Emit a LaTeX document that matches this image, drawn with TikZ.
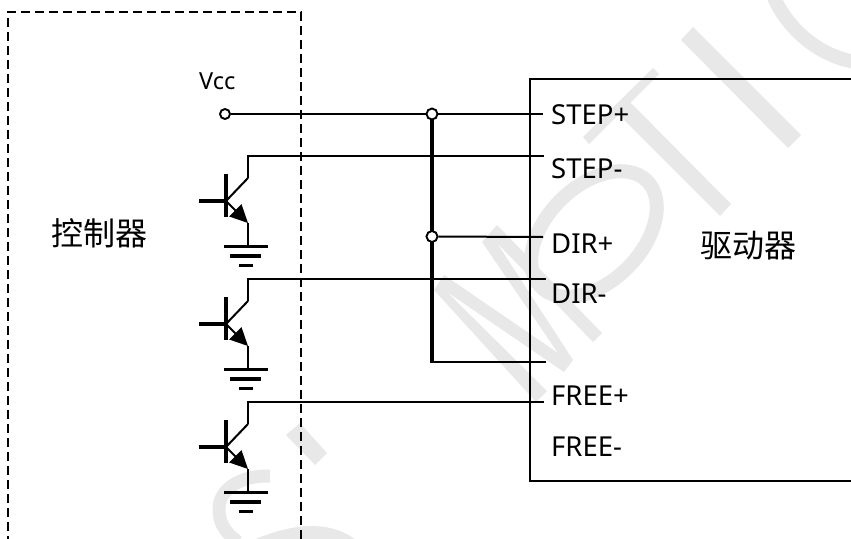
\documentclass[tikz,border=0pt]{standalone}
\usepackage{fontspec}
\setmainfont{Noto Sans}
\newfontfamily\cjk{Noto Sans CJK SC}
\usetikzlibrary{arrows.meta}
\definecolor{mark}{HTML}{E8E8E8}
\tikzset{
  wire/.style={line width=2pt,line cap=butt},
  bus/.style={line width=3.4pt},
  heavy/.style={line width=3.2pt},
  frame/.style={line width=1.8pt,dash pattern=on 9pt off 5pt},
  junction/.style={circle,draw,fill=white,line width=1.9pt,inner sep=0pt,minimum size=10pt},
  lab/.style={anchor=base west,inner sep=0pt,font=\fontsize{27.5}{27.5}\selectfont},
  cn/.style={inner sep=0pt,font=\cjk\fontsize{32}{32}\selectfont},
  wm/.style={draw=none,fill=mark},
  wmline/.style={draw=mark},
  npn/.pic={
    \coordinate (-b) at (199,201);
    \coordinate (-k) at (226,201);
    \coordinate (-t) at (226,174);
    \coordinate (-u) at (226,217);
    \coordinate (-c) at (248,178);
    \coordinate (-e) at (248,223);
    \coordinate (-g) at (248,246.5);
    \draw[heavy] (-b) -- (-k);
    \draw[heavy] (-t) -- (-u);
    \draw[wire] (-k) -- (-c);
    \draw[wire,-{Triangle[length=18pt,width=17pt]}] (-k) -- (-e);
    \draw[wire] (-e) -- (-g);
    \draw[heavy] (224,246.5) -- (268,246.5);
    \draw[heavy] (230,256) -- (261,256);
    \draw[heavy] (239,265.5) -- (253,265.5);
  }
}
\begin{document}
\begin{tikzpicture}[x=1pt,y=-1pt]
\useasboundingbox (0,0) rectangle (851,538);
\clip (0,0) rectangle (851,538);
% watermark
\fill[wm] (681,40) -- (693,27) -- (801,135) -- (788,148) -- cycle;
\fill[wm] (653,68) -- (659,74) -- (589,144) -- (583,137) -- cycle;
\fill[wm] (615,111) -- (627,99) -- (731,204) -- (720,216) -- cycle;
\draw[wmline,line width=14pt] (594,234) ellipse[x radius=75,y radius=47.6,rotate=45];
\fill[wm] (444,275) -- (434,290) -- (536,402) -- (547,391) -- (447,292) -- (564,372) -- (573,360) -- (497,243) -- (593,342) -- (602,333) -- (497,225) -- (482,242) -- (558,353) -- cycle;
\draw[wmline,line width=14pt] (773,-5) .. controls (785,25) and (815,55) .. (855,62);
\fill[wm] (286,435) -- (300,423) -- (327,453) -- (315,465) -- cycle;
\draw[wmline,line width=13pt] (270,476) .. controls (240,475) and (218,490) .. (219,510) .. controls (219,525) and (228,535) .. (238,542);
\draw[wmline,line width=13pt] (258,545) .. controls (290,532) and (325,525) .. (352,545);
% controller and driver frames
\coordinate (fa) at (8,545);
\coordinate (fb) at (8,12);
\coordinate (fc) at (301,12);
\coordinate (fd) at (301,545);
\draw[frame] (fa) -- (fb) -- (fc) -- (fd);
\coordinate (da) at (855,79);
\coordinate (db) at (530,79);
\coordinate (dc) at (530,481);
\coordinate (dd) at (855,481);
\draw[line width=1.6pt] (da) -- (db) -- (dc) -- (dd);
% transistors
\pic (ta) at (0,0) {npn};
\pic (tb) at (0,123) {npn};
\pic (tc) at (0,246) {npn};
% labels
\node[lab] (stepp) at (551,124.5) {STEP+};
\node[lab] (stepm) at (551,178) {STEP-};
\node[lab] (dirp) at (551,253) {DIR+};
\node[lab] (dirm) at (551,303) {DIR-};
\node[lab] (freep) at (551,405.5) {FREE+};
\node[lab] (freem) at (551,456) {FREE-};
\node[lab,font=\fontsize{23.5}{23.5}\selectfont] (vcc) at (199,89.5) {Vcc};
\node[cn] (ctl) at (99.5,233) {控制器};
\node[cn] (drv) at (748,245.5) {驱动器};
% wiring
\coordinate (esp) at (543,114);
\coordinate (esm) at (544,155.7);
\coordinate (edp) at (543,237);
\coordinate (edm) at (546,278.7);
\coordinate (ex) at (546,362);
\coordinate (efp) at (544,401.7);
\coordinate (bb) at (432,362);
\draw[wire] (ta-c) |- (esm);
\draw[wire] (tb-c) |- (edm);
\draw[wire] (tc-c) |- (efp);
\draw[bus] (432,114) -- (bb);
\draw[wire] (bb) ++(-1.7,0) -- (ex);
\node[junction] (jv) at (225,114) {};
\node[junction,minimum size=11pt] (ja) at (432,114) {};
\node[junction,minimum size=11pt] (jb) at (432,236.5) {};
\draw[wire] (jv) -- (ja);
\draw[wire] (ja) -- (esp);
\draw[wire] (jb) -- (edp);
\end{tikzpicture}
\end{document}
